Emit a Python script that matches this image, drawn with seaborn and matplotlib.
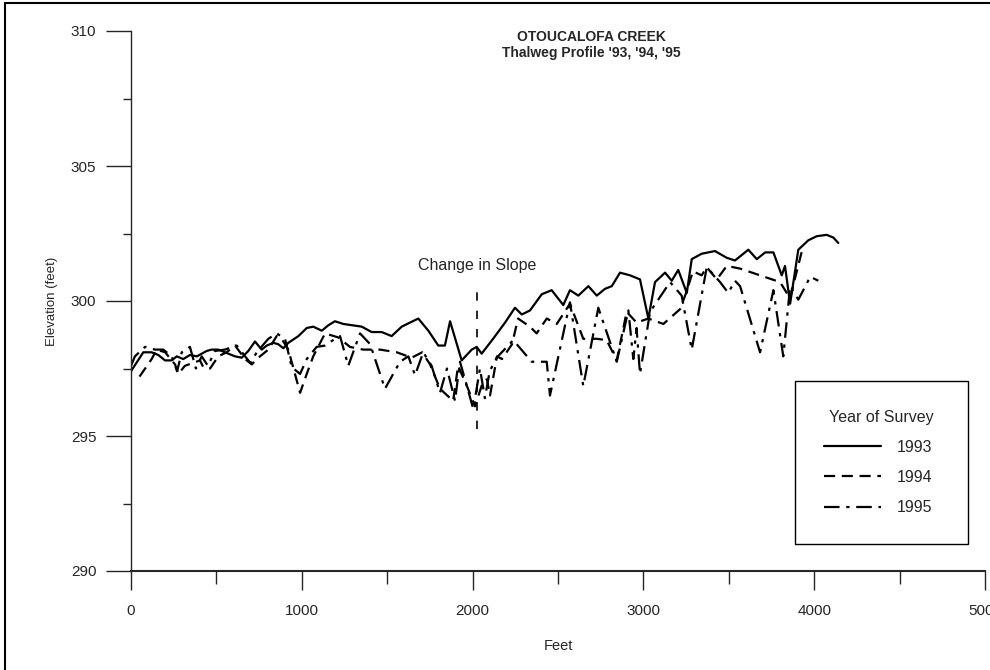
"""
Thalweg profile, Otoucalofa Creek, surveys of 1993-1995
"""

import numpy as np
import pandas as pd
import matplotlib

matplotlib.use("Agg")
import matplotlib.pyplot as plt
from matplotlib.lines import Line2D
from matplotlib.ticker import MultipleLocator
import seaborn as sns

# --- data (feet along channel, elevation in feet)
feet_1993 = [0, 72, 121, 160, 199, 238, 268, 306, 345, 386, 443, 472, 511, 550, 609,
             648, 687, 726, 765, 795, 833, 862, 892, 921, 980, 1029, 1067, 1117, 1155,
             1194, 1243, 1351, 1409, 1468, 1526, 1585, 1682, 1741, 1799, 1838, 1868,
             1936, 1995, 2024, 2053, 2120, 2190, 2248, 2288, 2336, 2405, 2463, 2531,
             2570, 2619, 2678, 2727, 2775, 2815, 2863, 2922, 2980, 3029, 3068, 3127,
             3166, 3204, 3254, 3283, 3341, 3419, 3488, 3536, 3595, 3614, 3664, 3713,
             3761, 3810, 3829, 3859, 3907, 3966, 4015, 4073, 4112, 4141]
elev_1993 = [297.4, 298.1, 298.1, 298.0, 297.8, 297.8, 297.95, 297.85, 298.0, 297.95,
             298.15, 298.2, 298.2, 298.1, 297.95, 297.9, 298.15, 298.5, 298.2, 298.35,
             298.45, 298.4, 298.25, 298.45, 298.7, 299.0, 299.05, 298.9, 299.1, 299.25,
             299.15, 299.05, 298.85, 298.85, 298.7, 299.05, 299.35, 298.9, 298.35,
             298.35, 299.25, 297.8, 298.2, 298.3, 298.05, 298.6, 299.2, 299.75, 299.5,
             299.65, 300.25, 300.4, 299.85, 300.4, 300.2, 300.55, 300.2, 300.45, 300.55,
             301.05, 300.95, 300.8, 299.35, 300.7, 301.05, 300.75, 301.15, 300.3,
             301.55, 301.75, 301.85, 301.6, 301.5, 301.8, 301.9, 301.55, 301.8, 301.8,
             300.95, 301.3, 299.9, 301.9, 302.25, 302.4, 302.45, 302.35, 302.15]

feet_1994 = [50, 121, 150, 200, 258, 277, 316, 404, 423, 463, 511, 560, 609, 668, 707,
             736, 804, 853, 882, 921, 990, 1029, 1067, 1136, 1214, 1282, 1360, 1458,
             1556, 1643, 1705, 1751, 1809, 1886, 1915, 1970, 2014, 2060, 2084, 2102,
             2143, 2172, 2231, 2266, 2336, 2375, 2434, 2493, 2570, 2648, 2727, 2785,
             2844, 2902, 2960, 3029, 3117, 3215, 3250, 3290, 3341, 3371, 3430, 3488,
             3566, 3800, 3859, 3890, 3930]
elev_1994 = [297.2, 297.85, 298.2, 298.1, 297.65, 297.3, 297.6, 297.8, 297.55, 297.5,
             297.95, 298.1, 298.35, 297.85, 297.65, 297.85, 298.2, 298.7, 298.6, 298.2,
             296.6, 297.3, 297.95, 298.8, 298.65, 298.3, 298.2, 298.2, 298.1, 297.9,
             298.1, 297.65, 296.75, 296.3, 297.6, 296.8, 296.1, 297.0, 297.1, 296.5,
             297.95, 297.85, 298.4, 299.35, 299.05, 298.8, 299.35, 299.15, 299.9, 298.6,
             298.6, 298.55, 297.8, 299.6, 299.2, 299.35, 299.15, 299.7, 300.3, 301.1,
             300.95, 301.25, 300.8, 301.3, 301.2, 300.7, 300.1, 300.9, 301.9]

feet_1995 = [0, 23, 82, 141, 189, 238, 270, 297, 345, 380, 414, 450, 492, 550, 619,
             668, 700, 736, 804, 853, 902, 941, 990, 1029, 1087, 1136, 1194, 1224, 1272,
             1341, 1400, 1487, 1575, 1624, 1663, 1711, 1760, 1809, 1850, 1897, 1926,
             1960, 2004, 2043, 2072, 2100, 2141, 2238, 2346, 2434, 2453, 2570, 2648,
             2736, 2844, 2912, 2941, 2960, 2980, 3039, 3156, 3224, 3283, 3371, 3449,
             3497, 3536, 3566, 3683, 3761, 3819, 3859, 3907, 3977, 4024]
elev_1995 = [297.6, 297.95, 298.3, 298.2, 298.2, 297.95, 297.4, 298.1, 298.3, 297.5,
             297.95, 297.6, 298.15, 298.2, 298.35, 297.95, 297.7, 298.1, 298.6, 298.8,
             298.6, 297.55, 297.3, 297.85, 298.3, 298.35, 298.6, 298.7, 297.6, 298.8,
             298.4, 296.75, 297.75, 297.95, 297.25, 298.1, 297.6, 296.6, 297.5, 296.3,
             297.75, 297.0, 296.0, 297.5, 296.4, 297.4, 297.9, 298.55, 297.75, 297.75,
             296.5, 299.95, 296.85, 299.75, 297.75, 299.65, 297.85, 299.0, 297.3, 299.6,
             300.7, 300.2, 298.2, 301.25, 300.7, 300.3, 300.75, 300.55, 298.1, 300.4,
             297.95, 300.55, 300.05, 300.9, 300.75]

years = ["1993", "1994", "1995"]
x_ticks = [0, 1000, 2000, 3000, 4000, 5000]
y_ticks = [290, 295, 300, 305, 310]

slope_break_ft = 2026
slope_break_range = (295.25, 300.35)

# long table for seaborn
frames = []
for yr, fx, ev in zip(years, [feet_1993, feet_1994, feet_1995],
                      [elev_1993, elev_1994, elev_1995]):
    frames.append(pd.DataFrame({"feet": fx, "elev": ev, "year": yr}))
df = pd.concat(frames, ignore_index=True)

sns.set_style("ticks")
plt.rcParams["font.family"] = ["Liberation Sans Narrow", "Liberation Sans", "DejaVu Sans"]

fig = plt.figure(figsize=(9.9, 6.7), dpi=100)
ax = fig.add_axes([131 / 990, 1 - 571 / 670, 854 / 990, 540 / 670])

line_styles = {"1993": "", "1994": (5, 3), "1995": (7, 3, 1.5, 3)}
sns.lineplot(data=df, x="feet", y="elev", style="year", dashes=line_styles,
             color="black", linewidth=1.6, estimator=None, sort=False, ax=ax)

# change in slope marker
ax.vlines(slope_break_ft, *slope_break_range, colors="black", linestyles=(0, (5, 6)),
          linewidth=1.2)
ax.text(slope_break_ft, 301.3, "Change in Slope", ha="center", va="center", fontsize=11.5)

ax.set_xlim(0, 5000)
ax.set_ylim(290, 310)
ax.set_xticks(x_ticks)
ax.set_xticklabels([str(t) for t in x_ticks])
ax.set_yticks(y_ticks)
ax.set_yticklabels([str(t) for t in y_ticks])
ax.xaxis.set_minor_locator(MultipleLocator(500))
ax.yaxis.set_minor_locator(MultipleLocator(2.5))
ax.tick_params(axis="y", which="major", length=18, width=1, pad=7, labelsize=11)
ax.tick_params(axis="y", which="minor", length=6, width=1)
ax.tick_params(axis="x", which="major", length=14, width=1, pad=10, labelsize=11)
ax.tick_params(axis="x", which="minor", length=9, width=1)

for side in ["top", "right"]:
    ax.spines[side].set_visible(False)
ax.spines["left"].set_linewidth(1.0)
ax.spines["bottom"].set_linewidth(1.5)

ax.set_xlabel("Feet", fontsize=10.5)
ax.set_ylabel("Elevation (feet)", fontsize=9.5)
ax.xaxis.set_label_coords(0.5, -0.125)
ax.yaxis.set_label_coords(-0.085, 0.5)

handles, labels = ax.get_legend_handles_labels()
keep = [(h, l) for h, l in zip(handles, labels) if l in years]
leg = ax.legend([h for h, _ in keep], [l for _, l in keep], title="Year of Survey",
                loc="lower left", bbox_to_anchor=(0.7775, 0.05, 0.2025, 0.3),
                mode="expand", borderaxespad=0, fontsize=11.5, title_fontsize=11.5,
                handlelength=3.6, handletextpad=1.0, labelspacing=0.95, borderpad=1.8,
                fancybox=False, framealpha=1, edgecolor="black")
leg.get_frame().set_linewidth(1.0)

# titles
fig.text(0.597, 1 - 37 / 670, "OTOUCALOFA CREEK", ha="center", va="center",
         fontsize=10, fontweight="bold")
fig.text(0.597, 1 - 53 / 670, "Thalweg Profile '93, '94, '95", ha="center",
         va="center", fontsize=10, fontweight="bold")

# page border of the scanned sheet
fig.add_artist(Line2D([5 / 990, 5 / 990], [0, 1 - 3 / 670], color="black", lw=1.5))
fig.add_artist(Line2D([5 / 990, 1], [1 - 3 / 670, 1 - 3 / 670], color="black", lw=1.5))

fig.savefig("out.png", dpi=100)
plt.close(fig)
